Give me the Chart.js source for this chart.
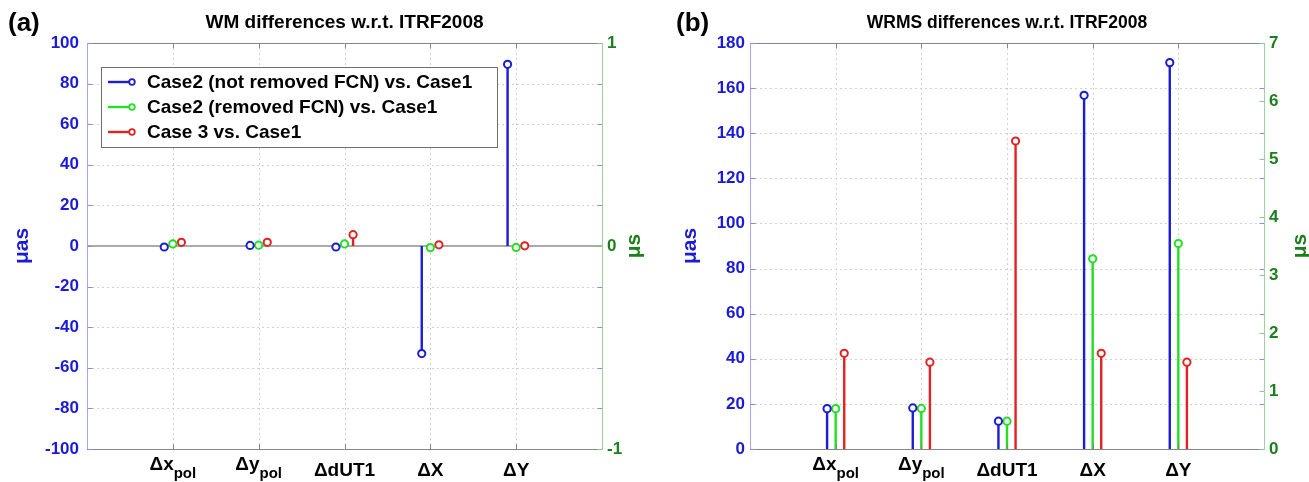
<!DOCTYPE html>
<html><head><meta charset="utf-8">
<script src="https://cdn.jsdelivr.net/npm/chart.js@4.4.1/dist/chart.umd.min.js"></script>
<style>
html,body{margin:0;padding:0;background:#fff;width:1309px;height:482px;overflow:hidden}
#wa{position:absolute;left:0;top:0;width:655px;height:482px}
#wb{position:absolute;left:655px;top:0;width:654px;height:482px}
</style></head><body>
<div id="wa"><canvas id="ca" width="655" height="482"></canvas></div>
<div id="wb"><canvas id="cb" width="654" height="482"></canvas></div>
<script>
// ---- data ----
const categories = ['Δx', 'Δy', 'ΔdUT1', 'ΔX', 'ΔY'];
const categorySubs = ['pol', 'pol', '', '', ''];
const categoryUnits = ['μas', 'μas', 'μs', 'μas', 'μas'];   // dUT1 read on the right (μs) axis
const seriesNames = ['Case2 (not removed FCN) vs. Case1', 'Case2 (removed FCN) vs. Case1', 'Case 3 vs. Case1'];

// WM differences w.r.t. ITRF2008
const wmNotRemovedFCN = [-0.5, 0.3, -0.005, -53.0, 89.5];
const wmRemovedFCN    = [1.0, 0.4, 0.010, -0.8, -0.7];
const wmCase3         = [1.8, 1.8, 0.056, 0.6, 0.1];

// WRMS differences w.r.t. ITRF2008
const wrmsNotRemovedFCN = [17.9, 18.2, 0.48, 156.8, 171.3];
const wrmsRemovedFCN    = [17.9, 18.0, 0.48, 84.3, 91.1];
const wrmsCase3         = [42.4, 38.5, 5.31, 42.4, 38.5];

// ---- styles ----
const FONT = '"Liberation Sans", Arial, sans-serif';
const seriesColors = ['#1c1cd2', '#22e022', '#e02222'];
const seriesOffsets = [-0.1, 0, 0.1];
const BLUE_TXT = '#1a1ad8';
const GREEN_TXT = '#1b7f1b';

function stemData(values, s, unit) {
  const pts = [];
  values.forEach((v, i) => {
    if (categoryUnits[i] !== unit) return;
    const x = i + 1 + seriesOffsets[s];
    pts.push({x: x, y: 0}, {x: x, y: v}, {x: x, y: null});
  });
  return pts;
}

function buildDatasets(seriesValues) {
  const ds = [];
  seriesValues.forEach((vals, s) => {
    ['μas', 'μs'].forEach(unit => {
      ds.push({
        label: seriesNames[s],
        data: stemData(vals, s, unit),
        yAxisID: unit === 'μas' ? 'y' : 'y2',
        showLine: true, spanGaps: false,
        borderColor: seriesColors[s], borderWidth: 2.4,
        pointRadius: ctx => (ctx.dataIndex % 3 === 1 ? 3.6 : 0),
        pointHoverRadius: 0,
        pointBorderWidth: 2, pointBorderColor: seriesColors[s], pointBackgroundColor: '#ffffff',
        clip: false
      });
    });
  });
  return ds;
}

function line(ctx, x1, y1, x2, y2) { ctx.beginPath(); ctx.moveTo(x1, y1); ctx.lineTo(x2, y2); ctx.stroke(); }

function makeDecor(p) {
  return {
    id: 'decor',
    beforeDatasetsDraw(chart) {
      const {ctx, chartArea: a, scales} = chart;
      ctx.save();
      ctx.strokeStyle = '#d2d2d2'; ctx.lineWidth = 1; ctx.setLineDash([2, 3]);
      for (let i = 1; i <= categories.length; i++) {
        const x = Math.round(scales.x.getPixelForValue(i)) + 0.5;
        line(ctx, x, a.top, x, a.bottom);
      }
      scales.y.ticks.forEach(t => {
        if (t.value === scales.y.min || t.value === scales.y.max || t.value === 0) return;
        const y = Math.round(scales.y.getPixelForValue(t.value)) + 0.5;
        line(ctx, a.left, y, a.right, y);
      });
      ctx.setLineDash([]);
      if (scales.y.min < 0) {
        ctx.strokeStyle = '#8e8e8e'; ctx.lineWidth = 1.6;
        const y0 = scales.y.getPixelForValue(0);
        line(ctx, a.left, y0, a.right, y0);
      }
      ctx.restore();
    },
    afterDatasetsDraw(chart) {
      const {ctx, chartArea: a, scales} = chart;
      ctx.save();
      ctx.lineWidth = 1;
      // top & bottom
      ctx.strokeStyle = '#858585';
      line(ctx, a.left, Math.round(a.top) + 0.5, a.right, Math.round(a.top) + 0.5);
      line(ctx, a.left, Math.round(a.bottom) + 0.5, a.right, Math.round(a.bottom) + 0.5);
      // x ticks inward
      for (let i = 1; i <= categories.length; i++) {
        const x = Math.round(scales.x.getPixelForValue(i)) + 0.5;
        line(ctx, x, a.top, x, a.top + 5);
        line(ctx, x, a.bottom, x, a.bottom - 5);
      }
      // left axis (blue) + mirrored ticks
      ctx.strokeStyle = '#a6a6f6';
      const xl = Math.round(a.left) + 0.5, xr = Math.round(a.right) + 0.5;
      line(ctx, xl, a.top, xl, a.bottom);
      ctx.strokeStyle = '#8a8af0';
      scales.y.ticks.forEach(t => {
        const y = Math.round(scales.y.getPixelForValue(t.value)) + 0.5;
        line(ctx, xl, y, xl + 5, y);
        line(ctx, xr, y, xr - 5, y);
      });
      // right axis (green)
      ctx.strokeStyle = '#9fd09f';
      line(ctx, xr, a.top, xr, a.bottom);
      ctx.strokeStyle = '#8cc88c';
      scales.y2.ticks.forEach(t => {
        const y = Math.round(scales.y2.getPixelForValue(t.value)) + 0.5;
        line(ctx, xr, y, xr - 5, y);
      });
      ctx.restore();

      // legend
      if (p.legend) {
        const L = p.legend;
        ctx.save();
        ctx.fillStyle = '#fff';
        ctx.fillRect(L.x, L.y, L.w, L.h);
        ctx.strokeStyle = '#6e6e6e'; ctx.lineWidth = 1;
        ctx.strokeRect(L.x + 0.5, L.y + 0.5, L.w, L.h);
        ctx.font = 'bold 19px ' + FONT;
        ctx.textBaseline = 'middle'; ctx.textAlign = 'left';
        seriesNames.forEach((name, s) => {
          const y = L.y + 15 + s * 25;
          ctx.strokeStyle = seriesColors[s]; ctx.lineWidth = 2.4;
          line(ctx, L.x + 7, y, L.x + 31, y);
          ctx.beginPath(); ctx.arc(L.x + 31, y, 2.8, 0, Math.PI * 2);
          ctx.fillStyle = '#fff'; ctx.fill(); ctx.lineWidth = 1.8; ctx.stroke();
          ctx.fillStyle = '#000';
          ctx.fillText(name, L.x + 46, y + 1);
        });
        ctx.restore();
      }
    },
    afterDraw(chart) {
      const {ctx, chartArea: a, scales} = chart;
      ctx.save();
      ctx.fillStyle = '#000';
      // panel letter
      ctx.font = 'bold 26px ' + FONT;
      ctx.textAlign = 'left'; ctx.textBaseline = 'alphabetic';
      ctx.fillText(p.letter, p.letterX, 31);
      // title
      ctx.font = 'bold ' + p.titleSize + 'px ' + FONT;
      ctx.textAlign = 'center';
      ctx.fillText(p.title, (a.left + a.right) / 2, 28);
      // category labels with subscripts
      categories.forEach((c, i) => {
        const x = scales.x.getPixelForValue(i + 1);
        const sub = categorySubs[i];
        ctx.font = 'bold 19px ' + FONT;
        const w1 = ctx.measureText(c).width;
        if (sub) {
          ctx.font = 'bold 15px ' + FONT;
          const w2 = ctx.measureText(sub).width;
          const x0 = x - (w1 + w2) / 2;
          ctx.textAlign = 'left';
          ctx.font = 'bold 19px ' + FONT;
          ctx.fillText(c, x0, 470);
          ctx.font = 'bold 15px ' + FONT;
          ctx.fillText(sub, x0 + w1, 478);
        } else {
          ctx.textAlign = 'center';
          ctx.fillText(c, x, 476);
        }
      });
      // axis titles
      ctx.font = 'bold 21px ' + FONT;
      ctx.textAlign = 'center'; ctx.textBaseline = 'middle';
      ctx.fillStyle = BLUE_TXT;
      ctx.save(); ctx.translate(p.leftTitleX, (a.top + a.bottom) / 2); ctx.rotate(-Math.PI / 2);
      ctx.fillText('μas', 0, 0); ctx.restore();
      ctx.fillStyle = GREEN_TXT;
      ctx.save(); ctx.translate(p.rightTitleX, (a.top + a.bottom) / 2); ctx.rotate(-Math.PI / 2);
      ctx.fillText('μs', 0, 0); ctx.restore();
      ctx.restore();
    }
  };
}

function makeChart(canvasId, seriesValues, p) {
  return new Chart(document.getElementById(canvasId), {
    type: 'scatter',
    data: {datasets: buildDatasets(seriesValues)},
    options: {
      responsive: false, animation: false, events: [],
      layout: {padding: {top: p.top, left: 0, right: 0, bottom: 0}},
      plugins: {legend: {display: false}, tooltip: {enabled: false}, title: {display: false}},
      scales: {
        x: {type: 'linear', min: 0, max: 6, ticks: {display: false}, grid: {display: false, drawTicks: false},
            border: {display: false}, afterFit: s => { s.height = 33; }},
        y: {position: 'left', min: p.yMin, max: p.yMax,
            ticks: {stepSize: 20, color: BLUE_TXT, padding: p.leftPad, font: {family: FONT, size: 17, weight: 'bold'}},
            grid: {display: false, drawTicks: false}, border: {display: false},
            afterFit: s => { s.width = p.left; }},
        y2: {position: 'right', min: p.y2Min, max: p.y2Max,
            ticks: {stepSize: 1, color: GREEN_TXT, padding: 5, font: {family: FONT, size: 17, weight: 'bold'}},
            grid: {display: false, drawTicks: false}, border: {display: false},
            afterFit: s => { s.width = p.right; }}
      }
    },
    plugins: [makeDecor(p)]
  });
}

makeChart('ca', [wmNotRemovedFCN, wmRemovedFCN, wmCase3], {
  top: 43, left: 87, right: 53, yMin: -100, yMax: 100, y2Min: -1, y2Max: 1, leftPad: 8,
  letter: '(a)', letterX: 8, title: 'WM differences w.r.t. ITRF2008', titleSize: 19,
  leftTitleX: 22, rightTitleX: 634,
  legend: {x: 101, y: 67, w: 396, h: 80}
});
makeChart('cb', [wrmsNotRemovedFCN, wrmsRemovedFCN, wrmsCase3], {
  top: 43, left: 95, right: 45, yMin: 0, yMax: 180, y2Min: 0, y2Max: 7, leftPad: 5,
  letter: '(b)', letterX: 21, title: 'WRMS differences w.r.t. ITRF2008', titleSize: 17.5,
  leftTitleX: 35, rightTitleX: 645,
  legend: null
});
</script>
</body></html>
